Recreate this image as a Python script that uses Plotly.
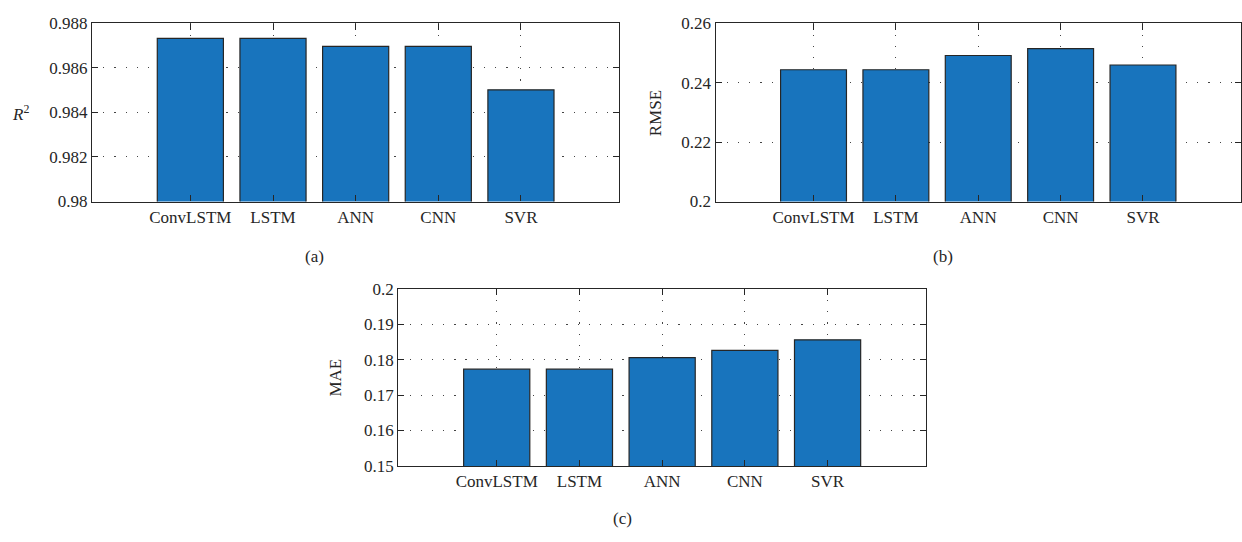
import plotly.graph_objects as go

models = ["ConvLSTM", "LSTM", "ANN", "CNN", "SVR"]
r2_values = [0.98733, 0.98733, 0.98697, 0.98697, 0.98502]
rmse_values = [0.2444, 0.2444, 0.2492, 0.2515, 0.2460]
mae_values = [0.1773, 0.1773, 0.1806, 0.1826, 0.1856]

r2_ticks = [0.98, 0.982, 0.984, 0.986, 0.988]
r2_ticktext = ["0.98", "0.982", "0.984", "0.986", "0.988"]
rmse_ticks = [0.2, 0.22, 0.24, 0.26]
rmse_ticktext = ["0.2", "0.22", "0.24", "0.26"]
mae_ticks = [0.15, 0.16, 0.17, 0.18, 0.19, 0.2]
mae_ticktext = ["0.15", "0.16", "0.17", "0.18", "0.19", "0.2"]

W, H = 1242, 542
FONT = "Liberation Serif"
TXT = "#262626"
BAR = "#1874BD"
xpos = list(range(1, len(models) + 1))

fig = go.Figure()

panels = [
    (r2_values, r2_ticks, r2_ticktext, [0.98, 0.988], (92, 619.3, 15, 199.5)),
    (rmse_values, rmse_ticks, rmse_ticktext, [0.2, 0.26], (715.5, 1241, 15, 199.5)),
    (mae_values, mae_ticks, mae_ticktext, [0.15, 0.2], (398.3, 926, 290, 473.5)),
]

layout = {}
for i, (vals, tv, tt, rng, (l, r, t, b)) in enumerate(panels):
    sfx = "" if i == 0 else str(i + 1)
    fig.add_trace(go.Bar(
        x=xpos, y=vals, width=0.8,
        marker=dict(color=BAR, line=dict(color="#262626", width=1.2)),
        xaxis="x" + sfx, yaxis="y" + sfx, showlegend=False,
    ))
    common = dict(
        showline=True, linecolor=TXT, linewidth=1.3, mirror="ticks",
        ticks="inside", ticklen=6, tickwidth=1, tickcolor=TXT,
        showgrid=True, gridcolor="#444444", gridwidth=1, griddash="1.2px,10px",
        zeroline=False, tickfont=dict(family=FONT, size=17, color=TXT),
    )
    layout["xaxis" + sfx] = dict(
        domain=[l / W, r / W], anchor="y" + sfx,
        range=[-0.19, 6.19], tickmode="array", tickvals=xpos, ticktext=models,
        **common,
    )
    layout["yaxis" + sfx] = dict(
        domain=[1 - b / H, 1 - t / H], anchor="x" + sfx,
        range=rng, tickmode="array", tickvals=tv, ticktext=tt,
        **common,
    )

annotations = [
    dict(text="<i>R</i><sup>2</sup>", x=20 / W, y=1 - 108 / H, textangle=0),
    dict(text="RMSE", x=655 / W, y=1 - 108 / H, textangle=-90),
    dict(text="MAE", x=336 / W, y=1 - 382 / H, textangle=-90),
    dict(text="(a)", x=314 / W, y=1 - 256 / H, textangle=0),
    dict(text="(b)", x=943 / W, y=1 - 256 / H, textangle=0),
    dict(text="(c)", x=622 / W, y=1 - 528 / H, textangle=0),
]
for a in annotations:
    a.update(xref="paper", yref="paper", showarrow=False,
             xanchor="center", yanchor="middle",
             font=dict(family=FONT, size=17, color=TXT))

fig.update_layout(
    width=W, height=H,
    margin=dict(l=0, r=0, t=0, b=0),
    paper_bgcolor="white", plot_bgcolor="white",
    bargap=0.2, annotations=annotations, **layout,
)

fig.write_html(
    "out.html",
    config={"displayModeBar": False},
    post_script="document.body.style.margin='0';document.body.style.overflow='hidden';",
)
